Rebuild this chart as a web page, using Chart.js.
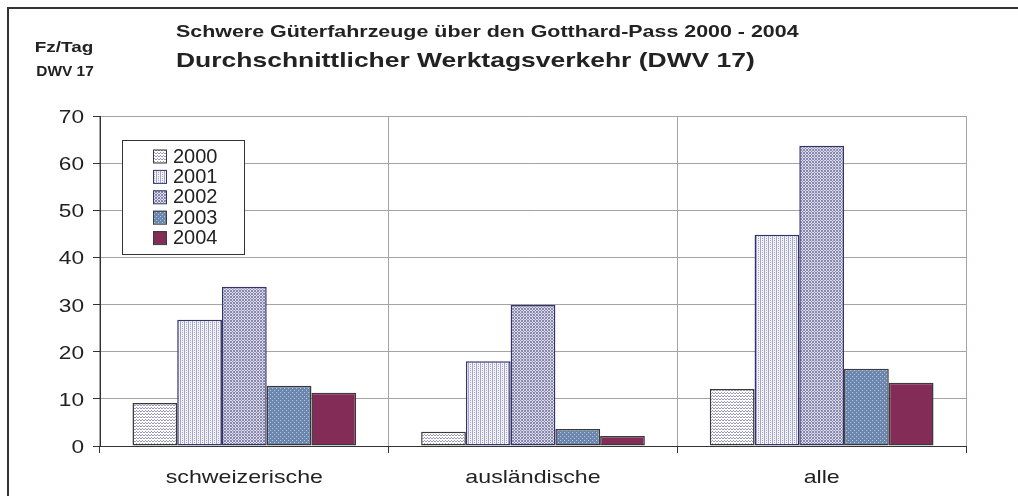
<!DOCTYPE html>
<html>
<head>
<meta charset="utf-8">
<script src="https://cdn.jsdelivr.net/npm/chart.js@4.4.1/dist/chart.umd.min.js"></script>
<style>
    html, body { margin: 0; padding: 0; background: #fff; }
    #wrap { width: 1018px; height: 496px; }
</style>
</head>
<body>
<div id="wrap"><canvas id="chart" width="1018" height="496"></canvas></div>
<script>
"use strict";

// categories and tick labels
const categories = ["schweizerische", "ausländische", "alle"];
const years = ["2000", "2001", "2002", "2003", "2004"];

// Fz/Tag
const values2000 = [9.1, 3.0, 12.1];
const values2001 = [26.8, 18.0, 44.8];
const values2002 = [33.8, 29.9, 63.7];
const values2003 = [12.8, 3.6, 16.4];
const values2004 = [11.3, 2.1, 13.4];

const TITLE_1 = "Schwere Güterfahrzeuge über den Gotthard-Pass 2000 - 2004";
const TITLE_2 = "Durchschnittlicher Werktagsverkehr (DWV 17)";
const UNIT_1 = "Fz/Tag";
const UNIT_2 = "DWV 17";

const FONT = "Arial, 'Liberation Sans', sans-serif";
const TEXT = "#222222";
const GRID = "#aaa2a2";
const AXIS = "#333333";
// the original picture was stretched sideways, its text with it
const STRETCH = 1.26;

// small bitmap tile -> CanvasPattern, like the Excel fills
function pattern (base, dot, cells) {
    const tile = document.createElement("canvas"),
        size = cells.length;
    tile.width = tile.height = size;
    const ctx = tile.getContext("2d");
    ctx.fillStyle = base;
    ctx.fillRect(0, 0, size, size);
    ctx.fillStyle = dot;
    cells.forEach((row, y) => [...row].forEach((c, x) => {
        if (c === "x") ctx.fillRect(x, y, 1, 1);
    }));
    return ctx.createPattern(tile, "repeat");
}

const fill2000 = pattern("#ffffff", "#9a98b8", ["x.x", "...", ".x."]);
const fill2001 = pattern("#f2f2f8", "#a4a4c4", ["x.x.", "x...", "x.x.", "x..."]);
const fill2002 = pattern("#dcdcec", "#8888ac", ["x.x", ".x.", "x.x"]);
const fill2003 = pattern("#6c86ae", "#b4c8e6", ["x...", "....", "..x.", "...."]);
const fill2004 = "#822c57";

const series = [
    {label: years[0], data: values2000, backgroundColor: fill2000, borderColor: "#3a3a3a"},
    {label: years[1], data: values2001, backgroundColor: fill2001, borderColor: "#33336a"},
    {label: years[2], data: values2002, backgroundColor: fill2002, borderColor: "#33336a"},
    {label: years[3], data: values2003, backgroundColor: fill2003, borderColor: "#3a3a3a"},
    {label: years[4], data: values2004, backgroundColor: fill2004, borderColor: "#3a3a3a"}
];

function wideText (ctx, text, x, y, align, sx) {
    ctx.save();
    ctx.translate(x, y);
    ctx.scale(sx, 1);
    ctx.textAlign = align;
    ctx.fillText(text, 0, 0);
    ctx.restore();
}

// titles, unit label, tick labels, legend box and the outer frame
const decorations = {
    id: "decorations",
    beforeDraw (chart) {
        const ctx = chart.ctx;
        ctx.save();
        ctx.strokeStyle = "#333333";
        ctx.lineWidth = 2;
        ctx.strokeRect(8, 8, 1040, 520);
        ctx.restore();
    },
    afterDraw (chart) {
        const ctx = chart.ctx,
            {x, y} = chart.scales;
        ctx.save();
        ctx.fillStyle = TEXT;
        ctx.textBaseline = "middle";

        ctx.font = "bold 17px " + FONT;
        wideText(ctx, TITLE_1, 176, 32, "left", STRETCH);
        ctx.font = "bold 21px " + FONT;
        wideText(ctx, TITLE_2, 176, 61, "left", STRETCH);

        ctx.font = "bold 15px " + FONT;
        wideText(ctx, UNIT_1, 64, 48, "center", STRETCH);
        wideText(ctx, UNIT_2, 65, 72, "center", 1.03);

        // tick labels from the scales
        ctx.font = "18px " + FONT;
        y.ticks.forEach((t, i) => wideText(ctx, t.label, 84, y.getPixelForTick(i) + 2, "right", STRETCH));
        ctx.font = "19px " + FONT;
        x.ticks.forEach((t, i) => wideText(ctx, x.getLabelForValue(t.value), x.getPixelForTick(i), 478, "center", 1.22));

        // legend
        const box = {x: 122.5, y: 140.5, w: 122, h: 114};
        ctx.fillStyle = "#ffffff";
        ctx.fillRect(box.x, box.y, box.w, box.h);
        ctx.strokeStyle = "#333333";
        ctx.lineWidth = 1;
        ctx.strokeRect(box.x, box.y, box.w, box.h);

        ctx.textAlign = "left";
        ctx.font = "20px " + FONT;
        chart.data.datasets.forEach((ds, i) => {
            const cy = 156 + i * 20.4;
            ctx.fillStyle = ds.backgroundColor;
            ctx.fillRect(153, cy - 6.5, 13, 13);
            ctx.strokeStyle = ds.borderColor;
            ctx.strokeRect(153.5, cy - 6, 13, 13);
            ctx.fillStyle = TEXT;
            ctx.fillText(ds.label, 173, cy + 1);
        });
        ctx.restore();
    }
};

new Chart(document.getElementById("chart"), {
    type: "bar",
    data: {
        labels: categories,
        datasets: series.map(s => ({
            ...s,
            borderWidth: 1.5,
            borderSkipped: false,
            categoryPercentage: 0.775,
            barPercentage: 1
        }))
    },
    options: {
        responsive: false,
        animation: false,
        layout: {padding: {left: 0, right: 52, top: 116, bottom: 0}},
        plugins: {
            legend: {display: false},
            title: {display: false},
            tooltip: {enabled: false}
        },
        scales: {
            x: {
                afterFit: scale => { scale.height = 50; },
                grid: {color: GRID, tickColor: AXIS, tickLength: 7, offset: true},
                border: {color: AXIS, width: 1},
                ticks: {color: "rgba(0,0,0,0)", font: {family: FONT, size: 19}, padding: 15}
            },
            y: {
                min: 0,
                max: 70,
                afterFit: scale => { scale.width = 100; },
                grid: {color: GRID, tickColor: AXIS, tickLength: 7},
                border: {color: AXIS, width: 1},
                ticks: {stepSize: 10, color: "rgba(0,0,0,0)", font: {family: FONT, size: 18}, padding: 9}
            }
        }
    },
    plugins: [decorations]
});
</script>
</body>
</html>
